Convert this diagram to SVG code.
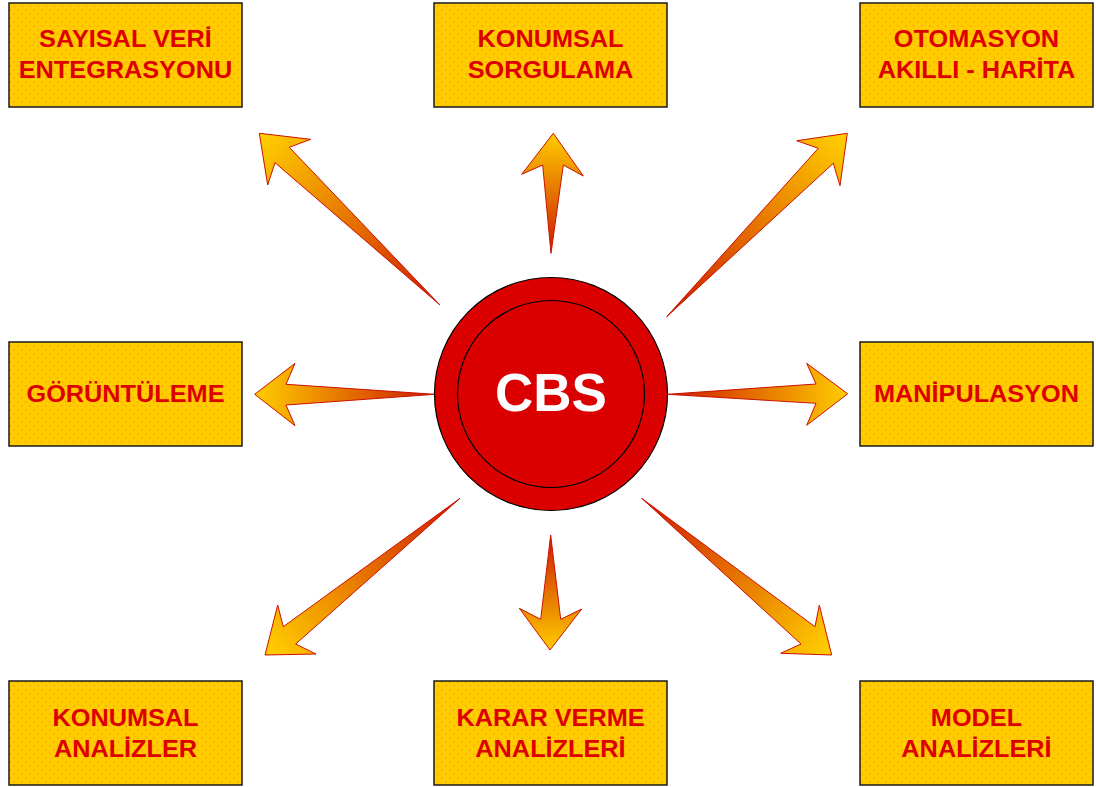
<svg xmlns="http://www.w3.org/2000/svg" width="1096" height="787" viewBox="0 0 1096 787">
  <defs>
    <style>
      .box { fill: #FFCC00; stroke: #1a1a1a; stroke-width: 1.5; }
      .dots { fill: url(#dotsYellow); }
      .lbl { font-family: "Liberation Sans", Arial, sans-serif; font-weight: bold; font-size: 23px; fill: #DD0000; text-anchor: middle; transform-box: fill-box; transform-origin: center; transform: scaleX(1.1); }
      .arrow { stroke: #CC1100; stroke-width: 1; stroke-linejoin: miter; }
      .hub { fill: #DD0000; stroke: #000; stroke-width: 1.2; }
      .hubin { fill: none; stroke: #000; stroke-width: 1.2; }
      .hubtxt { font-family: "Liberation Sans", Arial, sans-serif; font-weight: bold; font-size: 53px; fill: #FFFFFF; text-anchor: middle; }
    </style>
    <pattern id="dotsYellow" width="8" height="8" patternUnits="userSpaceOnUse">
      <circle cx="2" cy="2" r="0.9" fill="#FF9A00" opacity="0.7"/>
      <circle cx="6" cy="6" r="0.9" fill="#FF9A00" opacity="0.7"/>
    </pattern>
    <pattern id="dotsRed" width="8" height="8" patternUnits="userSpaceOnUse">
      <circle cx="2" cy="2" r="0.9" fill="#B00000" opacity="0.6"/>
      <circle cx="6" cy="6" r="0.9" fill="#B00000" opacity="0.6"/>
    </pattern>
    <!-- one gradient per arrow, running from tail (red) to tip (yellow) -->
    <linearGradient id="gTL" gradientUnits="userSpaceOnUse" x1="440" y1="305" x2="262" y2="140">
      <stop offset="0" stop-color="#CC1800"/><stop offset="1" stop-color="#FFCC00"/>
    </linearGradient>
    <linearGradient id="gTC" gradientUnits="userSpaceOnUse" x1="551" y1="253" x2="553" y2="134">
      <stop offset="0" stop-color="#CC1800"/><stop offset="1" stop-color="#FFCC00"/>
    </linearGradient>
    <linearGradient id="gTR" gradientUnits="userSpaceOnUse" x1="667" y1="317" x2="845" y2="140">
      <stop offset="0" stop-color="#CC1800"/><stop offset="1" stop-color="#FFCC00"/>
    </linearGradient>
    <linearGradient id="gML" gradientUnits="userSpaceOnUse" x1="435" y1="394" x2="256" y2="394">
      <stop offset="0" stop-color="#CC1800"/><stop offset="1" stop-color="#FFCC00"/>
    </linearGradient>
    <linearGradient id="gMR" gradientUnits="userSpaceOnUse" x1="667" y1="394" x2="847" y2="394">
      <stop offset="0" stop-color="#CC1800"/><stop offset="1" stop-color="#FFCC00"/>
    </linearGradient>
    <linearGradient id="gBL" gradientUnits="userSpaceOnUse" x1="460" y1="498" x2="270" y2="650">
      <stop offset="0" stop-color="#CC1800"/><stop offset="1" stop-color="#FFCC00"/>
    </linearGradient>
    <linearGradient id="gBC" gradientUnits="userSpaceOnUse" x1="551" y1="535" x2="550" y2="650">
      <stop offset="0" stop-color="#CC1800"/><stop offset="1" stop-color="#FFCC00"/>
    </linearGradient>
    <linearGradient id="gBR" gradientUnits="userSpaceOnUse" x1="642" y1="498" x2="828" y2="650">
      <stop offset="0" stop-color="#CC1800"/><stop offset="1" stop-color="#FFCC00"/>
    </linearGradient>
  </defs>

  <rect width="1096" height="787" fill="#FFFFFF"/>

  <!-- connectors: tapered arrows radiating from the hub -->
  <g id="connectors">
    <polygon class="arrow" fill="url(#gTL)" points="259.3,133.3 310.7,139.3 289.3,147.3 440,305 275,162.7 267.7,185"/>
    <polygon class="arrow" fill="url(#gTC)" points="553.3,133.3 583.3,176 563.3,165 551,253.3 542.7,165 521.7,174.3"/>
    <polygon class="arrow" fill="url(#gTR)" points="847.3,133.3 840,185.7 833.3,163.3 666.7,316.7 818.3,148.3 796.7,140.7"/>
    <polygon class="arrow" fill="url(#gML)" points="254.7,394.3 295,363.3 286,384.3 435,394.3 286,405 295,425.7"/>
    <polygon class="arrow" fill="url(#gMR)" points="847.7,393.8 806.7,363.3 816,384 667.3,394.3 816,403.3 806.7,425.3"/>
    <polygon class="arrow" fill="url(#gBL)" points="265,655 277.7,605 283.3,626.7 460,498.3 295.7,644 316,654"/>
    <polygon class="arrow" fill="url(#gBC)" points="550,650 519.3,608.3 540.7,619.3 550.7,535 560.7,619.3 581.7,609"/>
    <polygon class="arrow" fill="url(#gBR)" points="831.7,655 780.7,653.3 801,644 641.7,498.3 815,626.7 819.3,605"/>
  </g>

  <!-- central hub -->
  <g id="cbs">
    <circle class="hub" cx="551" cy="394" r="116.5"/>
    <circle cx="551" cy="394" r="116" fill="url(#dotsRed)"/>
    <circle class="hubin" cx="551" cy="394" r="93.5"/>
    <text class="hubtxt" x="551" y="411">CBS</text>
  </g>

  <!-- surrounding function boxes -->
  <g id="sayisal-veri">
    <rect class="box" x="9" y="3" width="233" height="104"/>
    <rect class="dots" x="10" y="4" width="231" height="102"/>
    <text class="lbl" x="125.5" y="47">SAYISAL VERİ</text>
    <text class="lbl" x="125.5" y="78">ENTEGRASYONU</text>
  </g>
  <g id="konumsal-sorgulama">
    <rect class="box" x="434" y="3" width="233" height="104"/>
    <rect class="dots" x="435" y="4" width="231" height="102"/>
    <text class="lbl" x="550.5" y="47">KONUMSAL</text>
    <text class="lbl" x="550.5" y="78">SORGULAMA</text>
  </g>
  <g id="otomasyon">
    <rect class="box" x="860" y="3" width="233" height="104"/>
    <rect class="dots" x="861" y="4" width="231" height="102"/>
    <text class="lbl" x="976.5" y="47">OTOMASYON</text>
    <text class="lbl" x="976.5" y="78">AKILLI - HARİTA</text>
  </g>
  <g id="goruntuleme">
    <rect class="box" x="9" y="342" width="233" height="104"/>
    <rect class="dots" x="10" y="343" width="231" height="102"/>
    <text class="lbl" x="125.5" y="402">GÖRÜNTÜLEME</text>
  </g>
  <g id="manipulasyon">
    <rect class="box" x="860" y="342" width="233" height="104"/>
    <rect class="dots" x="861" y="343" width="231" height="102"/>
    <text class="lbl" x="976.5" y="402">MANİPULASYON</text>
  </g>
  <g id="konumsal-analizler">
    <rect class="box" x="9" y="681" width="233" height="104"/>
    <rect class="dots" x="10" y="682" width="231" height="102"/>
    <text class="lbl" x="125.5" y="726">KONUMSAL</text>
    <text class="lbl" x="125.5" y="757">ANALİZLER</text>
  </g>
  <g id="karar-verme">
    <rect class="box" x="434" y="681" width="233" height="104"/>
    <rect class="dots" x="435" y="682" width="231" height="102"/>
    <text class="lbl" x="550.5" y="726">KARAR VERME</text>
    <text class="lbl" x="550.5" y="757">ANALİZLERİ</text>
  </g>
  <g id="model-analizleri">
    <rect class="box" x="860" y="681" width="233" height="104"/>
    <rect class="dots" x="861" y="682" width="231" height="102"/>
    <text class="lbl" x="976.5" y="726">MODEL</text>
    <text class="lbl" x="976.5" y="757">ANALİZLERİ</text>
  </g>
</svg>
